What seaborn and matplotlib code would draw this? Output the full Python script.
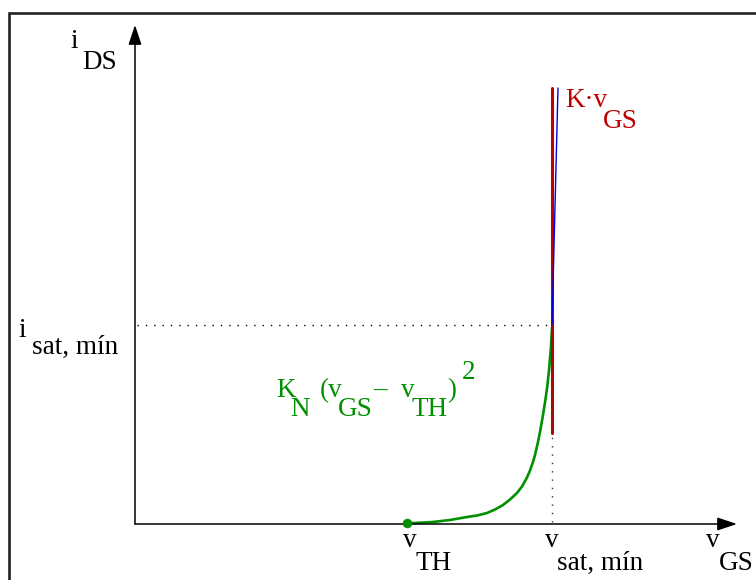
import numpy as np
import pandas as pd
import matplotlib
matplotlib.use("Agg")
import matplotlib.pyplot as plt
import seaborn as sns
from matplotlib.patches import Rectangle

# characteristic (v_GS, i_DS), arbitrary units
v_curve = [272, 285, 298, 315, 332, 342, 352, 360, 368, 375, 382, 387, 392, 395,
           398, 400, 403, 405, 408, 410, 412, 414, 416, 417]
i_curve = [0.7, 1.3, 2, 4, 7, 8.5, 11, 14.5, 19, 24.5, 31, 37.5, 46.5, 53.5,
           62, 69, 82, 92, 109, 121.5, 135.5, 153.5, 177.5, 196]
v_th = 272
v_sat = 417
i_sat = 199
# linear region K*v_GS (red) and its blue tangent
red_v = [417, 417]
red_i = [91, 436]
blue_v = [417, 423]
blue_i = [199, 436]

GREEN = "#009000"
RED = "#c00000"
BLUE = "#0000e0"

sns.set_style("white")
plt.rcParams["font.family"] = ["Liberation Serif", "DejaVu Serif"]

fig = plt.figure(figsize=(7.56, 5.8), dpi=100)
ax = fig.add_axes([0, 0, 1, 1])
ax.set_xlim(-135, 621)
ax.set_ylim(-56, 524)
ax.axis("off")

curve = pd.DataFrame({"v": v_curve, "i": i_curve})
sns.lineplot(data=curve, x="v", y="i", sort=False, estimator=None,
             color=GREEN, lw=1.9, ax=ax)
sns.lineplot(x=red_v, y=red_i, sort=False, estimator=None, color=RED, lw=2.2, ax=ax)
sns.lineplot(x=blue_v, y=blue_i, sort=False, estimator=None, color=BLUE, lw=1.0, ax=ax)

# dotted guides
ax.plot([2, v_sat], [i_sat, i_sat], color="black", lw=1.0, ls=(0, (1, 5)))
ax.plot([v_sat, v_sat], [2, 196], color="#333333", lw=1.0, ls=(0, (1, 5)))

sns.scatterplot(x=[v_th], y=[0.7], color=GREEN, s=40, edgecolor=GREEN, ax=ax, zorder=5)

# axes with arrows
arrow = dict(arrowstyle="-|>,head_length=0.6,head_width=0.2", lw=1.1,
             color="black", mutation_scale=20, shrinkA=0, shrinkB=0)
ax.annotate("", xy=(0, 499), xytext=(0, 0), arrowprops=arrow)
ax.annotate("", xy=(602, 0), xytext=(0, 0), arrowprops=arrow)

# frame (cropped on right and bottom)
fig.add_artist(Rectangle((8.7 / 756, -0.2), 1.5, 1.2 - 13 / 580, transform=fig.transFigure,
                         fill=False, lw=1.9, ec="#222222"))


def lab(x, y, s, color="black"):
    fig.text(x / 756, 1 - y / 580, s, color=color, fontsize=19.5, va="baseline", ha="left")


lab(70, 48, "i")
lab(82, 69, "DS")
lab(18, 337, "i")
lab(32, 354, "sat, mín")
lab(403, 547, "v")
lab(416, 570, "TH")
lab(545, 547, "v")
lab(557, 570, "sat, mín")
lab(706, 547, "v")
lab(719, 570, "GS")
lab(565, 107, "K·v", RED)
lab(603, 128, "GS", RED)
lab(276, 397, "K", GREEN)
lab(290, 416, "N", GREEN)
lab(320, 397, "(v", GREEN)
lab(338, 416, "GS", GREEN)
lab(373, 397, "–", GREEN)
lab(401, 397, "v", GREEN)
lab(412, 416, "TH", GREEN)
lab(447, 397, ")", GREEN)
lab(462, 379, "2", GREEN)

fig.savefig("out.png", dpi=100)
